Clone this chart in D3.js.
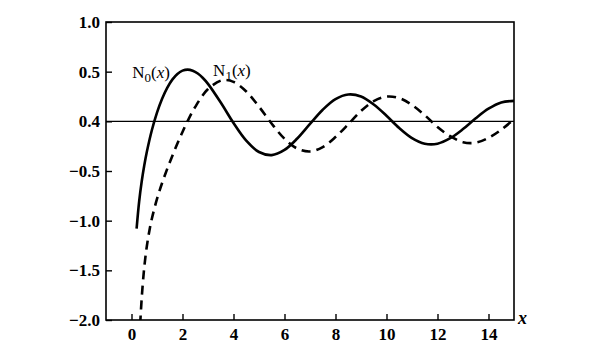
<!DOCTYPE html>
<meta charset="utf-8">
<script src="https://d3js.org/d3.v7.min.js"></script>
<style>
body{ margin:0; background:#fff; }
#chart{ font-family: "Liberation Serif", "DejaVu Serif", serif; }
</style>
<div id="chart"></div>
<script>
// values (N0 = solid, N1 = dashed)
var n0X = [0.2, 0.3, 0.4, 0.5, 0.6, 0.8, 1.0, 1.2, 1.4, 1.6, 1.8, 2.0, 2.2, 2.4, 2.6, 2.8, 3.0, 3.5, 4.0, 4.5, 5.0, 5.5, 6.0, 6.5, 7.0, 7.5, 8.0, 8.5, 9.0, 9.5, 10.0, 10.5, 11.0, 11.5, 12.0, 12.5, 13.0, 13.5, 14.0, 14.5, 15.0];
var n0Y = [-1.081, -0.807, -0.606, -0.445, -0.309, -0.087, 0.088, 0.228, 0.338, 0.420, 0.477, 0.510, 0.521, 0.510, 0.481, 0.436, 0.377, 0.189, -0.017, -0.195, -0.309, -0.340, -0.288, -0.173, -0.026, 0.117, 0.224, 0.270, 0.250, 0.169, 0.056, -0.068, -0.169, -0.225, -0.225, -0.170, -0.078, 0.031, 0.127, 0.190, 0.206];
var n1X = [0.34, 0.4, 0.5, 0.6, 0.7, 0.8, 1.0, 1.2, 1.4, 1.6, 1.8, 2.0, 2.2, 2.5, 3.0, 3.5, 3.7, 4.0, 4.5, 5.0, 5.5, 6.0, 6.5, 7.0, 7.5, 8.0, 8.5, 9.0, 9.5, 10.0, 10.5, 11.0, 11.5, 12.0, 12.5, 13.0, 13.5, 14.0, 14.5, 15.0];
var n1Y = [-2.045, -1.781, -1.471, -1.260, -1.103, -0.978, -0.781, -0.621, -0.479, -0.348, -0.224, -0.107, 0.002, 0.146, 0.325, 0.410, 0.417, 0.398, 0.301, 0.148, -0.024, -0.175, -0.274, -0.303, -0.259, -0.158, -0.030, 0.104, 0.203, 0.249, 0.234, 0.164, 0.062, -0.057, -0.150, -0.210, -0.215, -0.167, -0.085, 0.021];
var yTicks = [1.0, 0.5, 0, -0.5, -1.0, -1.5, -2.0];
var yTickLabels = ["1.0", "0.5", "0.4", "\u22120.5", "\u22121.0", "\u22121.5", "\u22122.0"];
var xTicks = [0, 2, 4, 6, 8, 10, 12, 14];

var margin = { top: 22, right: 86, bottom: 34, left: 106 },
    width = 600 - margin.left - margin.right,
    height = 354 - margin.top - margin.bottom;

var svg = d3.select("#chart")
  .append("svg")
    .attr("width", 600)
    .attr("height", 354)
  .append("g")
    .attr("transform", "translate(" + margin.left + "," + margin.top + ")");

var x = d3.scaleLinear().domain([-1, 15]).range([0, width]);
var y = d3.scaleLinear().domain([-2, 1]).range([height, 0]);

svg.append("clipPath").attr("id", "clip")
  .append("rect").attr("width", width).attr("height", height);

// frame
svg.append("rect")
  .attr("width", width).attr("height", height)
  .attr("fill", "none").attr("stroke", "#000").attr("stroke-width", 1.6);

// zero line
svg.append("line")
  .attr("x1", 0).attr("x2", width)
  .attr("y1", y(0)).attr("y2", y(0))
  .attr("stroke", "#000").attr("stroke-width", 1.3);

// axes with inward ticks
var yAxis = svg.append("g")
  .call(d3.axisRight(y).tickValues(yTicks).tickSize(6)
    .tickFormat(function(d, i) { return yTickLabels[i]; }));
yAxis.select(".domain").remove();
yAxis.selectAll("line").attr("stroke-width", 1.4);
yAxis.selectAll("text")
  .attr("x", -6)
  .attr("text-anchor", "end")
  .attr("font-family", "Liberation Serif")
  .attr("font-weight", "bold")
  .attr("font-size", "17px")
  .attr("fill", "#000");

var xAxis = svg.append("g")
  .attr("transform", "translate(0," + height + ")")
  .call(d3.axisTop(x).tickValues(xTicks).tickSize(6).tickFormat(d3.format("d")));
xAxis.select(".domain").remove();
xAxis.selectAll("line").attr("stroke-width", 1.4);
xAxis.selectAll("text")
  .attr("y", 20)
  .attr("dy", 0)
  .attr("font-family", "Liberation Serif")
  .attr("font-weight", "bold")
  .attr("font-size", "17px")
  .attr("fill", "#000");

svg.append("text")
  .attr("x", width + 4).attr("y", height + 4)
  .attr("font-style", "italic").attr("font-weight", "bold")
  .attr("font-size", "18px")
  .text("x");

var line = d3.line()
  .x(function(d) { return x(d[0]); })
  .y(function(d) { return y(d[1]); })
  .curve(d3.curveCatmullRom);

svg.append("path")
  .datum(d3.zip(n0X, n0Y))
  .attr("clip-path", "url(#clip)")
  .attr("fill", "none").attr("stroke", "#000").attr("stroke-width", 2.6)
  .attr("d", line);

svg.append("path")
  .datum(d3.zip(n1X, n1Y))
  .attr("clip-path", "url(#clip)")
  .attr("fill", "none").attr("stroke", "#000").attr("stroke-width", 2.6)
  .attr("stroke-dasharray", "9,6")
  .attr("d", line);

// curve labels
function curveLabel(px, py, sub) {
  var t = svg.append("text")
    .attr("x", x(px)).attr("y", y(py))
    .attr("font-size", "17px");
  t.append("tspan").text("N");
  t.append("tspan").attr("dy", 4).attr("font-size", "13px").text(sub);
  t.append("tspan").attr("dy", -4).text("(");
  t.append("tspan").attr("font-style", "italic").text("x");
  t.append("tspan").text(")");
}
curveLabel(0.03, 0.44, "0");
curveLabel(3.2, 0.46, "1");
</script>
